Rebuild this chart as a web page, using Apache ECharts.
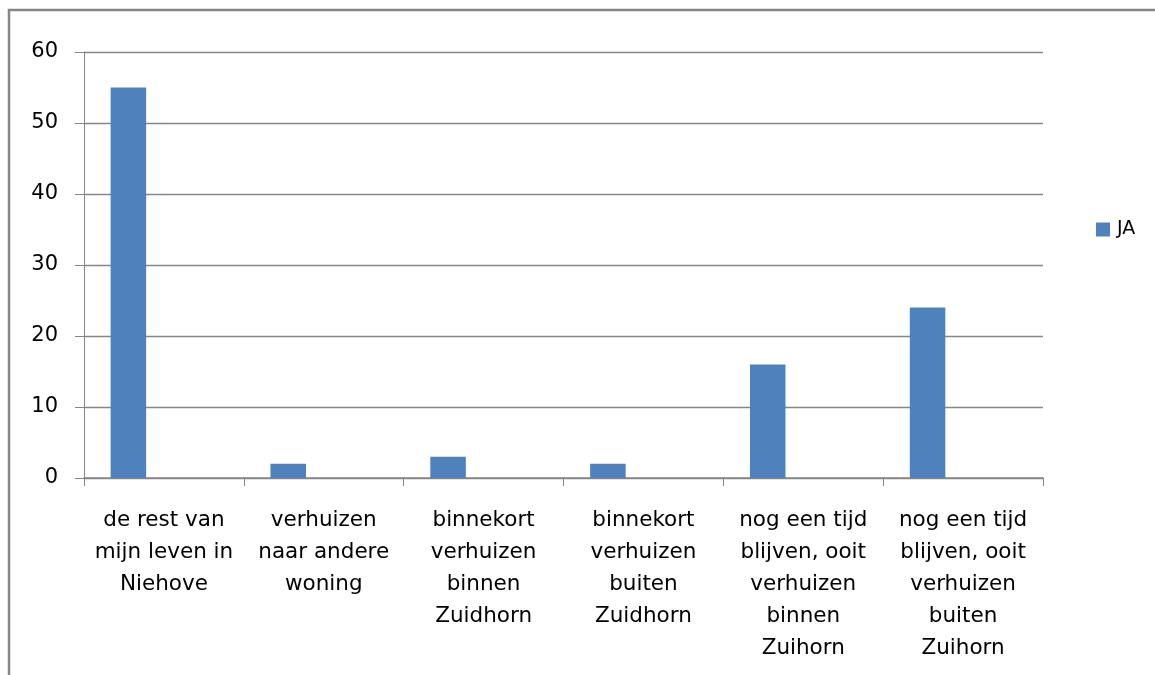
<!DOCTYPE html>
<html>
<head>
<meta charset="utf-8">
<script src="https://cdn.jsdelivr.net/npm/echarts@6/dist/echarts.min.js"></script>
<style>
html,body{margin:0;padding:0;background:#fff;}
#chart{width:1155px;height:675px;}
</style>
</head>
<body>
<div id="chart"></div>
<script>
const categories = [
  'de rest van\nmijn leven in\nNiehove',
  'verhuizen\nnaar andere\nwoning',
  'binnekort\nverhuizen\nbinnen\nZuidhorn',
  'binnekort\nverhuizen\nbuiten\nZuidhorn',
  'nog een tijd\nblijven, ooit\nverhuizen\nbinnen\nZuihorn',
  'nog een tijd\nblijven, ooit\nverhuizen\nbuiten\nZuihorn'
];
const seriesName = 'JA';
const jaValues = [55, 2, 3, 2, 16, 24];
const yTicks = { min: 0, max: 60, interval: 10 };

const FONT = 'DejaVu Sans';
const GRAY = '#868686';

const chart = echarts.init(document.getElementById('chart'), null, { renderer: 'canvas' });
chart.setOption({
  animation: false,
  backgroundColor: '#ffffff',
  textStyle: { fontFamily: FONT },
  graphic: [{
    type: 'rect',
    shape: { x: 9, y: 10, width: 1300, height: 900 },
    style: { fill: 'none', stroke: GRAY, lineWidth: 2.5 },
    silent: true
  }],
  grid: { left: 84, top: 52, right: 112, bottom: 197, containLabel: false },
  legend: {
    data: [seriesName],
    left: 1096,
    top: 220,
    padding: 0,
    itemWidth: 14,
    itemHeight: 14,
    icon: 'rect',
    itemGap: 7,
    textStyle: { fontFamily: FONT, fontSize: 19, color: '#000', padding: [0, 0, 0, 2] }
  },
  xAxis: {
    type: 'category',
    data: categories,
    axisLine: { lineStyle: { color: GRAY, width: 1.5 } },
    axisTick: { show: true, length: 8, alignWithLabel: false, lineStyle: { color: GRAY } },
    axisLabel: {
      interval: 0,
      margin: 26,
      fontFamily: FONT,
      fontSize: 21.5,
      lineHeight: 32,
      color: '#000',
      align: 'center'
    },
    splitLine: { show: false }
  },
  yAxis: {
    type: 'value',
    min: yTicks.min,
    max: yTicks.max,
    interval: yTicks.interval,
    axisLine: { show: true, lineStyle: { color: GRAY, width: 1 } },
    axisTick: { show: true, length: 9, lineStyle: { color: GRAY } },
    axisLabel: { margin: 26, fontFamily: FONT, fontSize: 21, color: '#000' },
    splitLine: { show: true, lineStyle: { color: GRAY, width: 1.3 } }
  },
  series: [
    {
      name: seriesName,
      type: 'bar',
      data: jaValues,
      itemStyle: { color: '#4F81BD' },
      barGap: '0%',
      barCategoryGap: '33.33%'
    },
    { name: 'empty1', type: 'bar', data: [], barGap: '0%', barCategoryGap: '33.33%' },
    { name: 'empty2', type: 'bar', data: [], barGap: '0%', barCategoryGap: '33.33%' }
  ]
});
</script>
</body>
</html>
